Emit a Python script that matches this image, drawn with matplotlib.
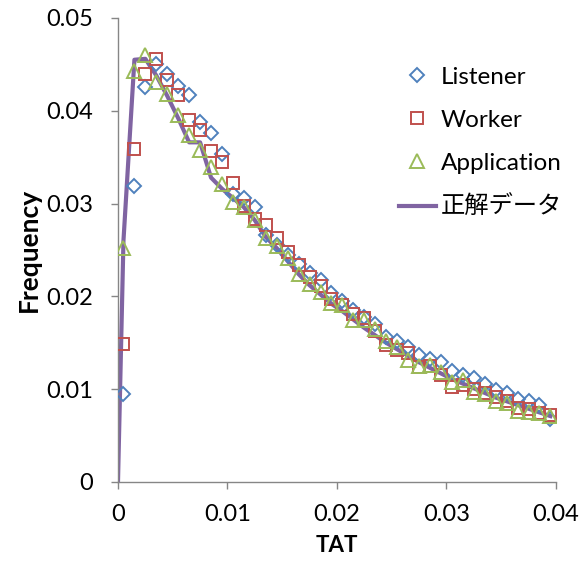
import numpy as np
import matplotlib
matplotlib.use("Agg")
import matplotlib.pyplot as plt

plt.rcParams['font.family'] = ['Lato', 'Noto Sans CJK JP', 'DejaVu Sans']

# bin centres of TAT histogram
tat = np.arange(0.0005, 0.04, 0.001)

listener = [0.0095, 0.0319, 0.0426, 0.0450, 0.0440, 0.0427, 0.0417, 0.0388, 0.0376, 0.0353,
            0.0310, 0.0306, 0.0296, 0.0266, 0.0255, 0.0245, 0.0235, 0.0225, 0.0218, 0.0204,
            0.0195, 0.0185, 0.0178, 0.0170, 0.0156, 0.0152, 0.0145, 0.0137, 0.0133, 0.0129,
            0.0120, 0.0115, 0.0112, 0.0106, 0.0099, 0.0096, 0.0089, 0.0087, 0.0083, 0.0068]

worker = [0.0149, 0.0359, 0.0440, 0.0456, 0.0433, 0.0417, 0.0390, 0.0379, 0.0357, 0.0345,
          0.0322, 0.0297, 0.0283, 0.0277, 0.0263, 0.0248, 0.0234, 0.0221, 0.0211, 0.0197,
          0.0191, 0.0181, 0.0177, 0.0163, 0.0148, 0.0142, 0.0139, 0.0124, 0.0125, 0.0115,
          0.0102, 0.0105, 0.0100, 0.0096, 0.0092, 0.0087, 0.0080, 0.0079, 0.0074, 0.0072]

application = [0.0252, 0.0443, 0.0460, 0.0431, 0.0418, 0.0395, 0.0374, 0.0358, 0.0339, 0.0321,
               0.0302, 0.0296, 0.0282, 0.0263, 0.0254, 0.0241, 0.0224, 0.0213, 0.0205, 0.0193,
               0.0191, 0.0175, 0.0175, 0.0165, 0.0152, 0.0146, 0.0131, 0.0125, 0.0126, 0.0119,
               0.0108, 0.0110, 0.0097, 0.0095, 0.0087, 0.0085, 0.0076, 0.0075, 0.0074, 0.0071]

# "correct" data, starts from the origin
true_x = np.concatenate([[0.0], tat])
true_y = [0.0,
          0.0260, 0.0455, 0.0456, 0.0438, 0.0416, 0.0392, 0.0366, 0.0366, 0.0328, 0.0316,
          0.0306, 0.0296, 0.0282, 0.0264, 0.0252, 0.0238, 0.0224, 0.0212, 0.0202, 0.0192,
          0.0184, 0.0175, 0.0166, 0.0158, 0.0150, 0.0143, 0.0136, 0.0129, 0.0123, 0.0117,
          0.0111, 0.0106, 0.0101, 0.0096, 0.0091, 0.0087, 0.0083, 0.0079, 0.0075, 0.0071]

fig = plt.figure(figsize=(5.87, 5.64), dpi=100)
ax = fig.add_axes([0.201, 0.1454, 0.746, 0.8227])

ax.plot(true_x, true_y, color='#8064A2', lw=3, zorder=2, label='正解データ')
ax.plot(tat, listener, ls='none', marker='D', ms=7, mfc='none', mec='#4F81BD', mew=1.4,
        zorder=3, label='Listener')
ax.plot(tat, worker, ls='none', marker='s', ms=9, mfc='none', mec='#C0504D', mew=1.4,
        zorder=3, label='Worker')
ax.plot(tat, application, ls='none', marker='^', ms=10, mfc='none', mec='#9BBB59', mew=1.4,
        zorder=3, label='Application')

ax.set_xlim(0, 0.04)
ax.set_ylim(0, 0.05)
ax.set_xticks([0, 0.01, 0.02, 0.03, 0.04])
ax.set_xticklabels(['0', '0.01', '0.02', '0.03', '0.04'])
ax.set_yticks([0, 0.01, 0.02, 0.03, 0.04, 0.05])
ax.set_yticklabels(['0', '0.01', '0.02', '0.03', '0.04', '0.05'])

for s in ['top', 'right']:
    ax.spines[s].set_visible(False)
for s in ['left', 'bottom']:
    ax.spines[s].set_color('#868686')
    ax.spines[s].set_linewidth(1)
ax.tick_params(axis='both', colors='#868686', labelcolor='black', labelsize=17, length=5, width=1)
ax.tick_params(axis='x', pad=11)
ax.tick_params(axis='y', pad=13)

ax.set_xlabel('TAT', fontsize=16, fontweight='bold', labelpad=7)
ax.set_ylabel('Frequency', fontsize=19, fontweight='bold', labelpad=4)

h, l = ax.get_legend_handles_labels()
order = [1, 2, 3, 0]
ax.legend([h[i] for i in order], [l[i] for i in order], loc='upper left',
          bbox_to_anchor=(0.642, 0.895), borderpad=0, borderaxespad=0, frameon=False,
          fontsize=17.5, handlelength=1.5, handletextpad=0.2, labelspacing=0.9)

fig.savefig('out.png', dpi=100)
